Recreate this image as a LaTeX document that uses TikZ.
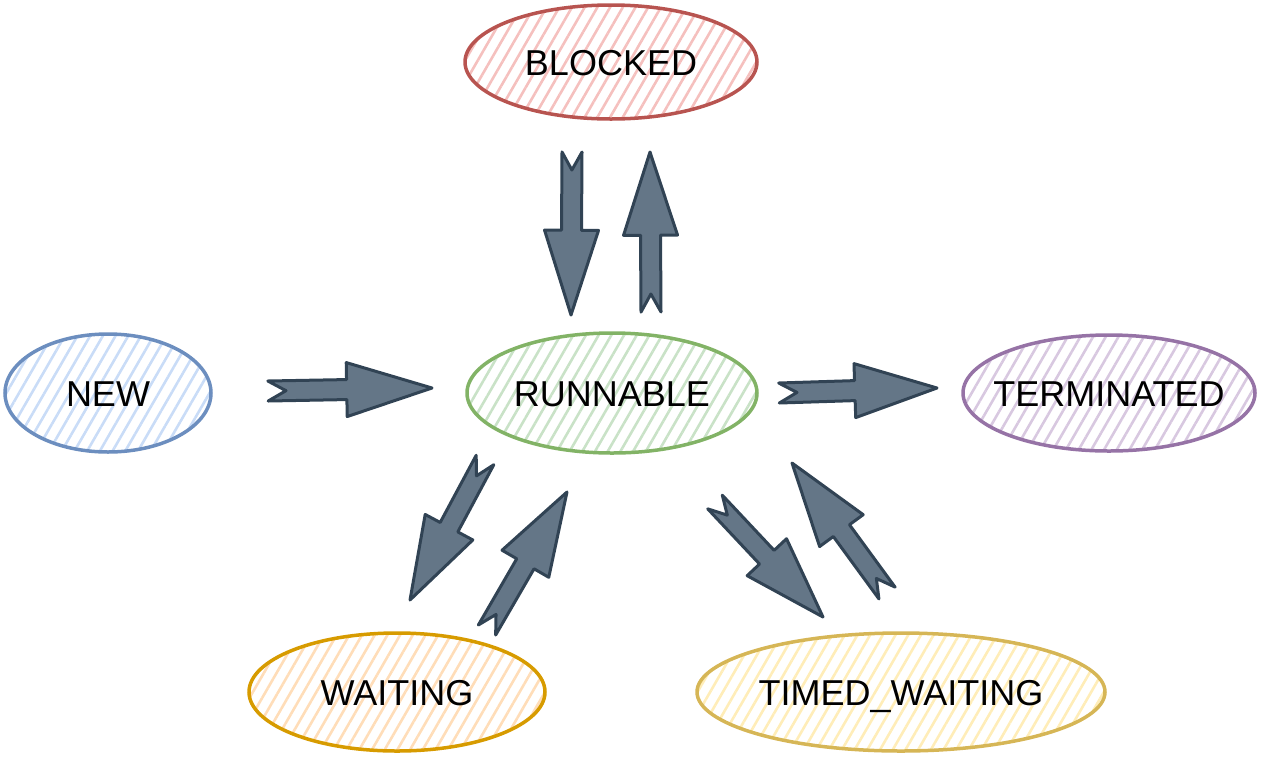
\documentclass[tikz,border=0pt]{standalone}
\usepackage{fontspec}
\setmainfont{Liberation Sans}
\usetikzlibrary{shapes.geometric, calc, patterns.meta}

\definecolor{blueline}{HTML}{6C8EBF}
\definecolor{bluefill}{HTML}{C9DCF7}
\definecolor{greenline}{HTML}{82B366}
\definecolor{greenfill}{HTML}{C9E2C7}
\definecolor{redline}{HTML}{B85450}
\definecolor{redfill}{HTML}{F5C0BE}
\definecolor{purpleline}{HTML}{9673A6}
\definecolor{purplefill}{HTML}{D8C8E0}
\definecolor{orangeline}{HTML}{D79B00}
\definecolor{orangefill}{HTML}{FFDDB8}
\definecolor{yellowline}{HTML}{D6B656}
\definecolor{yellowfill}{HTML}{FFEDB8}
\definecolor{arrowfill}{HTML}{647687}
\definecolor{arrowline}{HTML}{314354}

\newcommand\statename[1]{\makebox[0pt]{#1}}

% block arrow from #1 (tail) to #2 (tip)
\newcommand\flexarrow[2]{%
  \coordinate (hb) at ($(#1)!0.48!(#2)$);
  \coordinate (nt) at ($(#1)!18pt!(#2)$);
  \filldraw[flex]
    ($(#1)!10pt!90:(#2)$) -- ($(hb)!10pt!90:(#2)$) -- ($(hb)!27pt!90:(#2)$) -- (#2)
    -- ($(hb)!27pt!-90:(#2)$) -- ($(hb)!10pt!-90:(#2)$) -- ($(#1)!10pt!-90:(#2)$)
    -- (nt) -- cycle;
}

\begin{document}
\begin{tikzpicture}[
  x=1pt, y=-1pt,
  state/.style 2 args={ellipse, draw=#1, line width=3.5pt, inner sep=0pt,
    pattern={Lines[angle=60, distance=11pt, line width=2.6pt]}, pattern color=#2,
    font=\fontsize{36}{40}\selectfont, text height=26pt, text depth=0pt},
  flex/.style={fill=arrowfill, draw=arrowline, line width=3pt, line join=round}
]
\useasboundingbox (0,0) rectangle (1266,756);

% States
\node[state={redline}{redfill}, minimum width=292pt, minimum height=114pt] (blocked) at (611,62) {\statename{BLOCKED}};
\node[state={blueline}{bluefill}, minimum width=206pt, minimum height=118pt] (new) at (108,393) {\statename{NEW}};
\node[state={greenline}{greenfill}, minimum width=290pt, minimum height=120pt] (runnable) at (612,393) {\statename{RUNNABLE}};
\node[state={purpleline}{purplefill}, minimum width=292pt, minimum height=116pt] (terminated) at (1109,393) {\statename{TERMINATED}};
\node[state={orangeline}{orangefill}, minimum width=296pt, minimum height=118pt] (waiting) at (397,692) {\statename{WAITING}};
\node[state={yellowline}{yellowfill}, minimum width=408pt, minimum height=118pt] (timed) at (901,692) {\statename{TIMED\_WAITING}};

% Arrow ends
\coordinate (newout) at (268,391);
\coordinate (runin) at (432,388);
\coordinate (blkout) at (572,152);
\coordinate (blkin) at (571,315);
\coordinate (runup) at (651,312);
\coordinate (blkup) at (650,152);
\coordinate (runout) at (779,393);
\coordinate (termin) at (937,388);
\coordinate (runwait) at (485,460);
\coordinate (waitin) at (410,600);
\coordinate (waitout) at (487,630);
\coordinate (runfromwait) at (567,492);
\coordinate (runtimed) at (715,502);
\coordinate (timedin) at (823,617);
\coordinate (timedout) at (887,593);
\coordinate (runfromtimed) at (792,463);

% Arrows
\flexarrow{newout}{runin}
\flexarrow{blkout}{blkin}
\flexarrow{runup}{blkup}
\flexarrow{runout}{termin}
\flexarrow{runwait}{waitin}
\flexarrow{waitout}{runfromwait}
\flexarrow{runtimed}{timedin}
\flexarrow{timedout}{runfromtimed}

\end{tikzpicture}
\end{document}
